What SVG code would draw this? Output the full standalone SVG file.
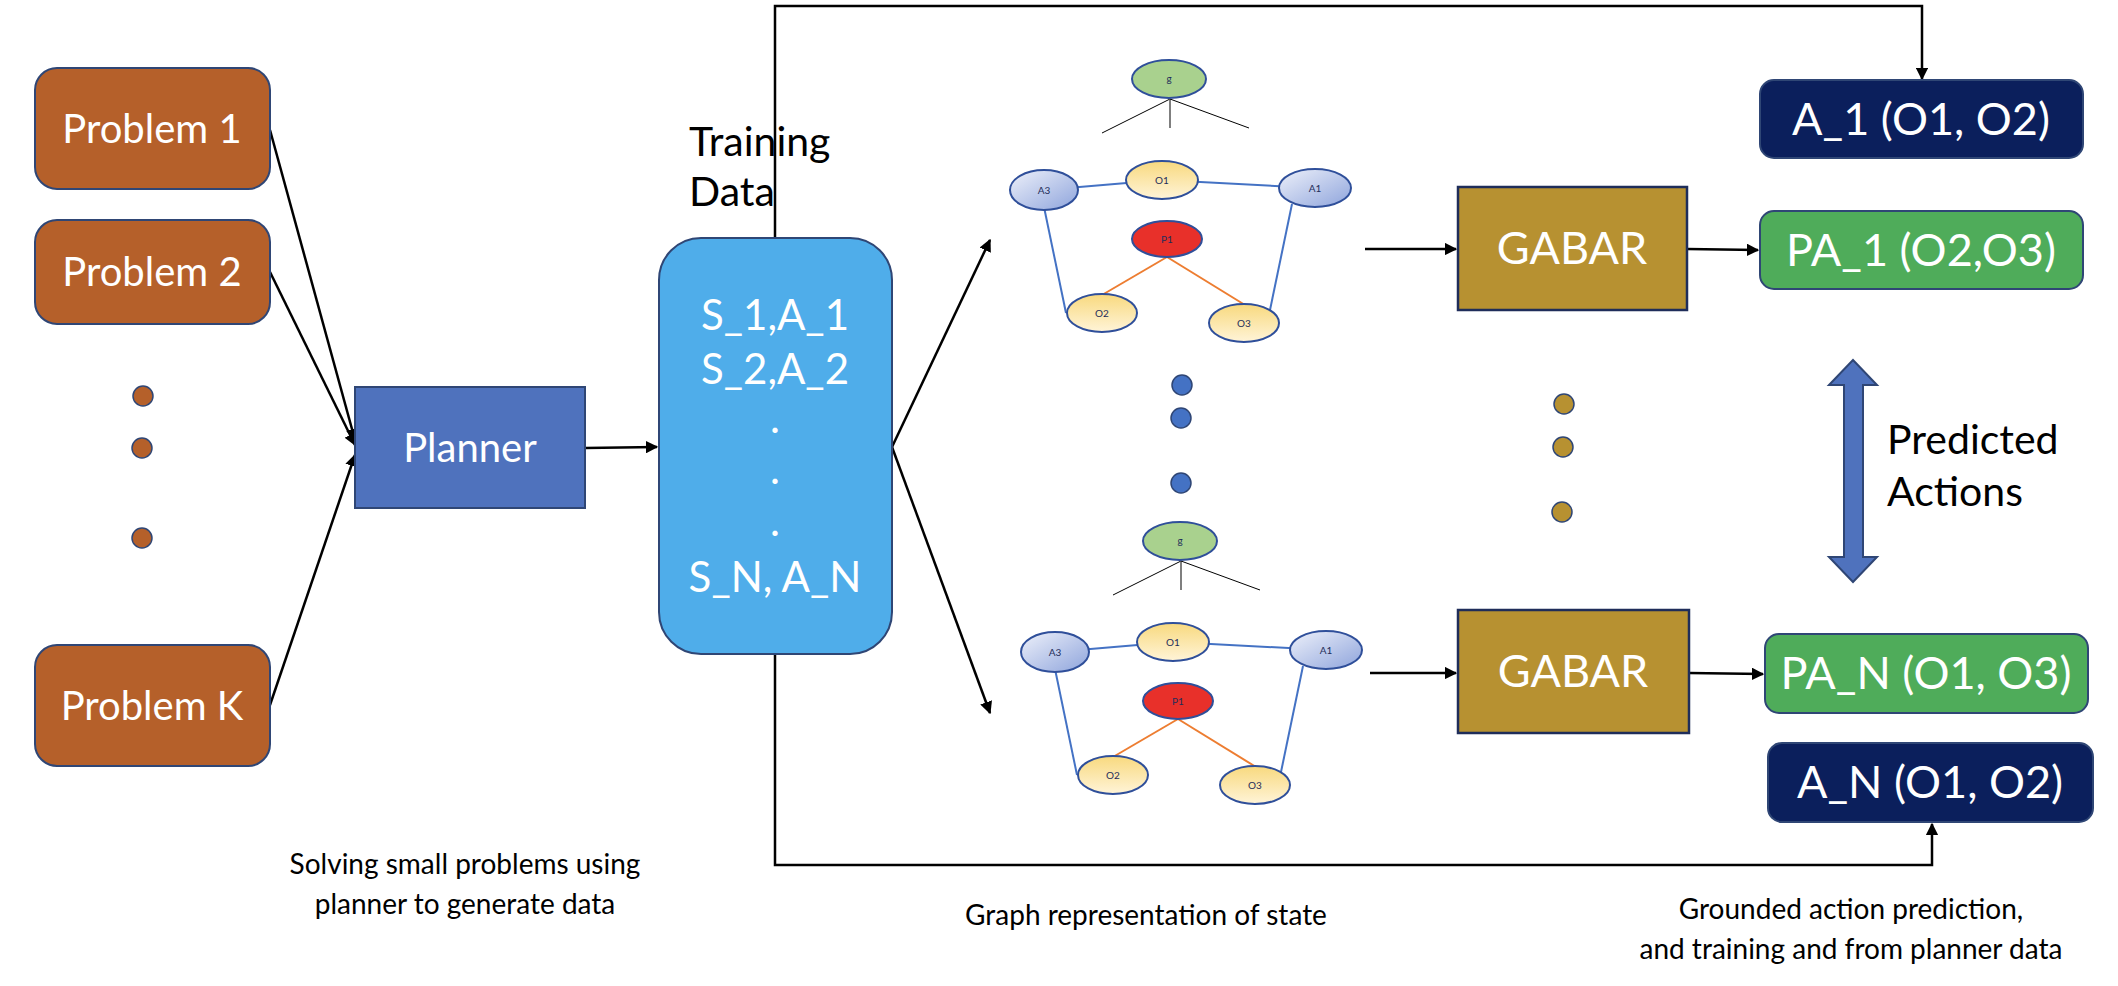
<svg xmlns="http://www.w3.org/2000/svg" width="2118" height="986" viewBox="0 0 2118 986">
<style>
text{font-family:Lato,"Open Sans",sans-serif}
.prob{fill:#b5602a;stroke:#2f4675;stroke-width:2}
.wt{fill:#fff;font-size:40px}
.bx{fill:#fff;font-size:45px}
.bt{fill:#000;font-size:41px}
.cap{fill:#000;font-size:28px;text-anchor:middle}
.ln{stroke:#000;stroke-width:2.5;fill:none}
.gl{stroke:#4472c4;stroke-width:2;fill:none}
.ol{stroke:#ed7d31;stroke-width:2;fill:none}
.nd{stroke:#2f4f9a;stroke-width:2}
.nt{font-size:10px;fill:#1f2d5a;text-anchor:middle}
.gab{fill:#b79131;stroke:#1f2d5a;stroke-width:2.5}
.nav{fill:#0b1f5c;stroke:#2f4675;stroke-width:2}
.grn{fill:#4fac5a;stroke:#2f4675;stroke-width:2}
</style>
<defs>
<marker id="ah" viewBox="0 0 10 10" refX="9" refY="5" markerWidth="5" markerHeight="5" orient="auto"><path d="M0,0L10,5L0,10z" fill="#000"/></marker>
<linearGradient id="ga" x1="0" y1="0" x2="1" y2="1"><stop offset="0" stop-color="#eef1fa"/><stop offset="1" stop-color="#8ea4dc"/></linearGradient>
<linearGradient id="go" x1="0" y1="0" x2="0" y2="1"><stop offset="0" stop-color="#f8d97e"/><stop offset="1" stop-color="#fff4d8"/></linearGradient>
<g id="graph">
<line x1="1170" y1="99" x2="1102" y2="133" stroke="#000" stroke-width="1"/>
<line x1="1170" y1="99" x2="1170" y2="128" stroke="#555" stroke-width="1.5"/>
<line x1="1170" y1="99" x2="1249" y2="128" stroke="#000" stroke-width="1"/>
<line x1="1044" y1="190" x2="1162" y2="180" class="gl"/>
<line x1="1162" y1="180" x2="1315" y2="188" class="gl"/>
<line x1="1044" y1="207" x2="1066" y2="313" class="gl"/>
<line x1="1292" y1="204" x2="1270" y2="310" class="gl"/>
<line x1="1167" y1="257" x2="1102" y2="295" class="ol"/>
<line x1="1167" y1="257" x2="1245" y2="305" class="ol"/>
<ellipse cx="1169" cy="79" rx="37" ry="19" fill="#a9d18e" class="nd"/><text x="1169" y="82" class="nt">g</text>
<ellipse cx="1044" cy="190" rx="34" ry="20" fill="url(#ga)" class="nd"/><text x="1044" y="194" class="nt">A3</text>
<ellipse cx="1162" cy="180" rx="36" ry="19" fill="url(#go)" class="nd"/><text x="1162" y="184" class="nt">O1</text>
<ellipse cx="1315" cy="188" rx="36" ry="19" fill="url(#ga)" class="nd"/><text x="1315" y="192" class="nt">A1</text>
<ellipse cx="1167" cy="239" rx="35" ry="18" fill="#e8302a" class="nd"/><text x="1167" y="243" class="nt">P1</text>
<ellipse cx="1102" cy="313" rx="35" ry="19" fill="url(#go)" class="nd"/><text x="1102" y="317" class="nt">O2</text>
<ellipse cx="1244" cy="323" rx="35" ry="19" fill="url(#go)" class="nd"/><text x="1244" y="327" class="nt">O3</text>
</g>
</defs>

<g id="connectors">
<polyline points="775,238 775,6 1922,6 1922,79" class="ln" marker-end="url(#ah)"/>
<polyline points="775,654 775,865 1932,865 1932,824" class="ln" marker-end="url(#ah)"/>
<line x1="270" y1="130" x2="355" y2="440" class="ln" marker-end="url(#ah)"/>
<line x1="270" y1="272" x2="355" y2="445" class="ln" marker-end="url(#ah)"/>
<line x1="270" y1="705" x2="355" y2="455" class="ln" marker-end="url(#ah)"/>
<line x1="585" y1="448" x2="657" y2="447" class="ln" marker-end="url(#ah)"/>
<line x1="892" y1="447" x2="990" y2="240" class="ln" marker-end="url(#ah)"/>
<line x1="892" y1="447" x2="990" y2="713" class="ln" marker-end="url(#ah)"/>
<line x1="1365" y1="249" x2="1456" y2="249" class="ln" marker-end="url(#ah)"/>
<line x1="1687" y1="249" x2="1758" y2="250" class="ln" marker-end="url(#ah)"/>
<line x1="1370" y1="673" x2="1456" y2="673" class="ln" marker-end="url(#ah)"/>
<line x1="1689" y1="673" x2="1763" y2="674" class="ln" marker-end="url(#ah)"/>
</g>

<g id="problem1"><rect x="35" y="68" width="235" height="121" rx="22" class="prob"/><text x="152" y="143" class="wt" text-anchor="middle">Problem 1</text></g>
<g id="problem2"><rect x="35" y="220" width="235" height="104" rx="22" class="prob"/><text x="152" y="286" class="wt" text-anchor="middle">Problem 2</text></g>
<g id="problemK"><rect x="35" y="645" width="235" height="121" rx="22" class="prob"/><text x="152" y="720" class="wt" text-anchor="middle">Problem K</text></g>
<g id="problem-dots" fill="#b5602a" stroke="#2f4675" stroke-width="1.5">
<circle cx="143" cy="396" r="10"/><circle cx="142" cy="448" r="10"/><circle cx="142" cy="538" r="10"/></g>

<g id="planner"><rect x="355" y="387" width="230" height="121" fill="#4f72bd" stroke="#2f4675" stroke-width="2"/><text x="470" y="462" class="wt" text-anchor="middle">Planner</text></g>

<g id="training-data">
<text x="689" y="156" class="bt">Training</text><text x="689" y="206" class="bt">Data</text>
<rect x="659" y="238" width="233" height="416" rx="42" fill="#4fadea" stroke="#2f4675" stroke-width="2"/>
<g fill="#fff" font-size="42" text-anchor="middle">
<text x="775" y="330">S_1,A_1</text><text x="775" y="384">S_2,A_2</text>
<text x="775" y="433">.</text><text x="775" y="484">.</text><text x="775" y="536">.</text>
<text x="775" y="592">S_N, A_N</text></g>
</g>

<g id="graph1"><use href="#graph"/></g>
<g id="graph2"><use href="#graph" transform="translate(11,462)"/></g>
<g id="graph-dots" fill="#4472c4" stroke="#2f4675" stroke-width="1.5">
<circle cx="1182" cy="385" r="10"/><circle cx="1181" cy="418" r="10"/><circle cx="1181" cy="483" r="10"/></g>

<g id="gabar1"><rect x="1458" y="187" width="229" height="123" class="gab"/><text x="1572" y="264" class="bx" text-anchor="middle">GABAR</text></g>
<g id="gabar2"><rect x="1458" y="610" width="231" height="123" class="gab"/><text x="1573" y="687" class="bx" text-anchor="middle">GABAR</text></g>
<g id="gabar-dots" fill="#b79131" stroke="#2f4675" stroke-width="1.5">
<circle cx="1564" cy="404" r="10"/><circle cx="1563" cy="447" r="10"/><circle cx="1562" cy="512" r="10"/></g>

<g id="a1"><rect x="1760" y="80" width="323" height="78" rx="14" class="nav"/><text x="1921" y="135" class="bx" text-anchor="middle">A_1 (O1, O2)</text></g>
<g id="pa1"><rect x="1760" y="211" width="323" height="78" rx="14" class="grn"/><text x="1921" y="266" class="bx" text-anchor="middle">PA_1 (O2,O3)</text></g>
<g id="paN"><rect x="1765" y="634" width="323" height="79" rx="14" class="grn"/><text x="1926" y="689" class="bx" text-anchor="middle">PA_N (O1, O3)</text></g>
<g id="aN"><rect x="1768" y="743" width="325" height="79" rx="14" class="nav"/><text x="1930" y="798" class="bx" text-anchor="middle">A_N (O1, O2)</text></g>

<g id="predicted-actions">
<path d="M1853,360 L1877,385 L1863,385 L1863,557 L1877,557 L1853,582 L1829,557 L1844,557 L1844,385 L1829,385 Z" fill="#4f72bd" stroke="#2f4675" stroke-width="2"/>
<text x="1887" y="454" class="bt">Predicted</text><text x="1887" y="506" class="bt">Actions</text>
</g>

<text x="465" y="874" class="cap">Solving small problems using</text>
<text x="465" y="914" class="cap">planner to generate data</text>
<text x="1146" y="925" class="cap">Graph representation of state</text>
<text x="1851" y="919" class="cap">Grounded action prediction,</text>
<text x="1851" y="959" class="cap">and training and from planner data</text>
</svg>
